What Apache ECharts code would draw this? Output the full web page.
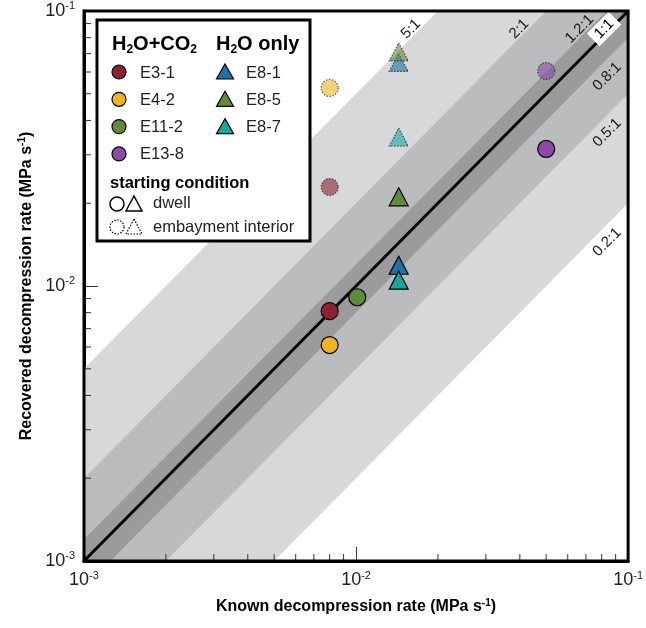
<!DOCTYPE html>
<html>
<head>
<meta charset="utf-8">
<script src="https://cdn.jsdelivr.net/npm/echarts@6/dist/echarts.min.js"></script>
<style>
  html, body { margin: 0; padding: 0; background: #fff; }
  #chart { width: 646px; height: 628px; }
</style>
</head>
<body>
<div id="chart"></div>
<script>
  // samples and rates (MPa s-1)
  const samples = ['E3-1', 'E4-2', 'E11-2', 'E13-8', 'E8-1', 'E8-5', 'E8-7'];
  const sampleGroup = ['H2O+CO2', 'H2O+CO2', 'H2O+CO2', 'H2O+CO2', 'H2O only', 'H2O only', 'H2O only'];
  const sampleColors = ['#8c2234', '#f0b323', '#5e8c3a', '#8b4aa6', '#2272a6', '#5e8c3a', '#1aa6a0'];
  const knownRate = [0.008, 0.008, 0.0101, 0.05, 0.01435, 0.01435, 0.01435];
  const dwellRate = [0.0081, 0.0061, 0.0091, 0.0315, 0.0119, 0.0211, 0.0105];
  const embaymentRate = [0.0229, 0.0525, null, 0.0605, 0.065, 0.071, 0.0348];

  // ratio lines and shaded bands
  const ratioLines = [5, 2, 1.2, 1, 0.8, 0.5, 0.2];
  const ratioLabels = ['5:1', '2:1', '1.2:1', '1:1', '0.8:1', '0.5:1', '0.2:1'];
  const bandPairs = [[0.2, 5], [0.5, 2], [0.8, 1.2]];
  const bandColors = ['#d7d8da', '#bbbcbe', '#9a9b9d'];

  const minorTickValues = [0.002, 0.003, 0.004, 0.005, 0.006, 0.007, 0.008, 0.009,
    0.02, 0.03, 0.04, 0.05, 0.06, 0.07, 0.08, 0.09];

  const AMIN = 0.001, AMAX = 0.1;
  const FONT = '"Liberation Sans", Arial, sans-serif';

  const chart = echarts.init(document.getElementById('chart'));

  function powLabel(v) {
    const e = Math.round(Math.log10(v));
    return '{b|10}{s|' + e + '}';
  }
  const powRich = {
    b: { fontSize: 18, color: '#222', fontFamily: FONT },
    s: { fontSize: 11, color: '#222', fontFamily: FONT, padding: [0, 0, 10, 0] }
  };

  // label offsets are given in screen px, turned into the rotated label frame
  function rotOffset(sx, sy) {
    const c = Math.SQRT1_2;
    return [(sx - sy) * c, (sx + sy) * c];
  }

  const series = [];

  // shaded bands
  series.push({
    type: 'custom',
    z: 1,
    silent: true,
    data: bandPairs,
    renderItem: function (params, api) {
      const lo = bandPairs[params.dataIndex][0];
      const hi = bandPairs[params.dataIndex][1];
      const pts = [
        [AMIN, AMIN * hi], [AMAX / hi, AMAX], [AMAX, AMAX],
        [AMAX, AMAX * lo], [AMIN / lo, AMIN], [AMIN, AMIN]
      ].map(p => api.coord(p));
      return {
        type: 'polygon',
        shape: { points: pts },
        style: { fill: bandColors[params.dataIndex], stroke: null }
      };
    }
  });

  // 1:1 line
  series.push({
    type: 'line',
    z: 3,
    silent: true,
    symbol: 'none',
    data: [[AMIN, AMIN], [AMAX, AMAX]],
    lineStyle: { color: '#000', width: 3 }
  });

  // ratio labels
  series.push({
    type: 'scatter',
    z: 4,
    silent: true,
    clip: false,
    symbolSize: 0,
    itemStyle: { opacity: 1 },
    data: ratioLines.map((r, i) => ({
      value: r >= 1 ? [AMAX / r, AMAX] : [AMAX, AMAX * r],
      name: ratioLabels[i],
      label: r === 1 ? {
        backgroundColor: '#fff', padding: [2, 5, 1, 5], offset: rotOffset(-24, 18), color: '#000'
      } : (r > 1 ? { offset: rotOffset(-27, 18) } : { offset: rotOffset(-21, 39) })
    })),
    label: {
      show: true,
      position: 'inside',
      rotate: 45,
      formatter: p => p.name,
      fontSize: 15,
      color: '#1a1a1a',
      fontFamily: FONT
    }
  });

  // minor ticks (log)
  series.push({
    type: 'custom',
    z: 6,
    silent: true,
    data: minorTickValues.map(v => [v, v]),
    renderItem: function (params, api) {
      const v = minorTickValues[params.dataIndex];
      const b = api.coord([v, AMIN]);
      const l = api.coord([AMIN, v]);
      return {
        type: 'group',
        children: [
          { type: 'line', shape: { x1: b[0], y1: b[1], x2: b[0], y2: b[1] - 7 }, style: { stroke: '#333', lineWidth: 1 } },
          { type: 'line', shape: { x1: l[0], y1: l[1], x2: l[0] + 7, y2: l[1] }, style: { stroke: '#333', lineWidth: 1 } }
        ]
      };
    }
  });

  // data points
  samples.forEach((s, i) => {
    const tri = sampleGroup[i] === 'H2O only';
    const sym = tri ? 'triangle' : 'circle';
    const size = tri ? [19, 18] : 17;
    if (embaymentRate[i] !== null) {
      series.push({
        name: s + ' embayment',
        type: 'scatter',
        z: 8,
        symbol: sym,
        symbolSize: size,
        data: [[knownRate[i], embaymentRate[i]]],
        itemStyle: {
          color: sampleColors[i],
          opacity: 0.6,
          borderColor: '#000',
          borderWidth: 1.2,
          borderType: [1.5, 1.5]
        }
      });
    }
    series.push({
      name: s,
      type: 'scatter',
      z: 9,
      symbol: sym,
      symbolSize: size,
      data: [[knownRate[i], dwellRate[i]]],
      itemStyle: { color: sampleColors[i], borderColor: '#000', borderWidth: 1.2, opacity: 1 }
    });
  });

  // legend drawn as graphic
  const legendItems = [];
  const txt = (x, y, text, opts) => Object.assign({
    type: 'text', x: x, y: y, z: 100,
    style: Object.assign({ text: text, fontSize: 16.5, fill: '#222', fontFamily: FONT, verticalAlign: 'middle' }, (opts || {}))
  });
  legendItems.push({
    type: 'rect', z: 99,
    shape: { x: 97, y: 20, width: 213, height: 221 },
    style: { fill: '#fff', stroke: '#000', lineWidth: 3 }
  });
  const subRich = {
    m: { fontSize: 20, fontWeight: 'bold', fill: '#000', fontFamily: FONT },
    sub: { fontSize: 12, fontWeight: 'bold', fill: '#000', fontFamily: FONT, padding: [11, 0, 0, 0] }
  };
  legendItems.push(txt(112, 44, '{m|H}{sub|2}{m|O+CO}{sub|2}', { rich: subRich }));
  legendItems.push(txt(216, 44, '{m|H}{sub|2}{m|O only}', { rich: subRich }));
  let rowA = 0, rowB = 0;
  samples.forEach((s, i) => {
    const tri = sampleGroup[i] === 'H2O only';
    const y = 72 + 27.3 * (tri ? rowB++ : rowA++);
    const cx = tri ? 225 : 119;
    if (tri) {
      legendItems.push({
        type: 'polygon', z: 100,
        shape: { points: [[cx, y - 8], [cx + 8.5, y + 7], [cx - 8.5, y + 7]] },
        style: { fill: sampleColors[i], stroke: '#000', lineWidth: 1.2 }
      });
    } else {
      legendItems.push({
        type: 'circle', z: 100,
        shape: { cx: cx, cy: y, r: 7 },
        style: { fill: sampleColors[i], stroke: '#000', lineWidth: 1.2 }
      });
    }
    legendItems.push(txt(cx + 21, y + 1, s));
  });
  legendItems.push(txt(110, 183, 'starting condition', { fontWeight: 'bold', fill: '#000', fontSize: 16.5 }));
  legendItems.push({ type: 'circle', z: 100, shape: { cx: 117, cy: 204, r: 7 }, style: { fill: 'none', stroke: '#000', lineWidth: 1.5 } });
  legendItems.push({ type: 'polygon', z: 100, shape: { points: [[134, 196], [142, 211], [126, 211]] }, style: { fill: 'none', stroke: '#000', lineWidth: 1.5 } });
  legendItems.push(txt(153, 203, 'dwell'));
  legendItems.push({ type: 'circle', z: 100, shape: { cx: 117, cy: 227, r: 7 }, style: { fill: 'none', stroke: '#000', lineWidth: 1.2, lineDash: [1.5, 1.5] } });
  legendItems.push({ type: 'polygon', z: 100, shape: { points: [[134, 219], [142, 234], [126, 234]] }, style: { fill: 'none', stroke: '#000', lineWidth: 1.2, lineDash: [1.5, 1.5] } });
  legendItems.push(txt(153, 227, 'embayment interior'));

  const axisCommon = {
    type: 'log',
    logBase: 10,
    min: AMIN,
    max: AMAX,
    nameLocation: 'middle',
    nameTextStyle: {
      fontSize: 16, fontWeight: 'bold', color: '#000', fontFamily: FONT,
      rich: { sup: { fontSize: 10, fontWeight: 'bold', color: '#000', fontFamily: FONT, padding: [0, 0, 8, 0] } }
    },
    axisLine: { show: true, lineStyle: { color: '#000', width: 3 } },
    axisTick: { show: true, inside: true, length: 14, lineStyle: { color: '#333', width: 1 } },
    splitLine: { show: false }
  };

  const option = {
    animation: false,
    backgroundColor: '#fff',
    grid: {
      left: 84, right: 14, top: 11, bottom: 67,
      show: true, borderColor: '#000', borderWidth: 3, backgroundColor: 'transparent', z: 10
    },
    xAxis: Object.assign({}, axisCommon, {
      name: 'Known decompression rate (MPa s{sup|-1})',
      nameGap: 37,
      axisLabel: { formatter: powLabel, rich: powRich, margin: 9 }
    }),
    yAxis: Object.assign({}, axisCommon, {
      name: 'Recovered decompression rate (MPa s{sup|-1})',
      nameGap: 44,
      axisLabel: { formatter: powLabel, rich: powRich, margin: 9 }
    }),
    graphic: legendItems,
    series: series
  };

  chart.setOption(option);
</script>
</body>
</html>
